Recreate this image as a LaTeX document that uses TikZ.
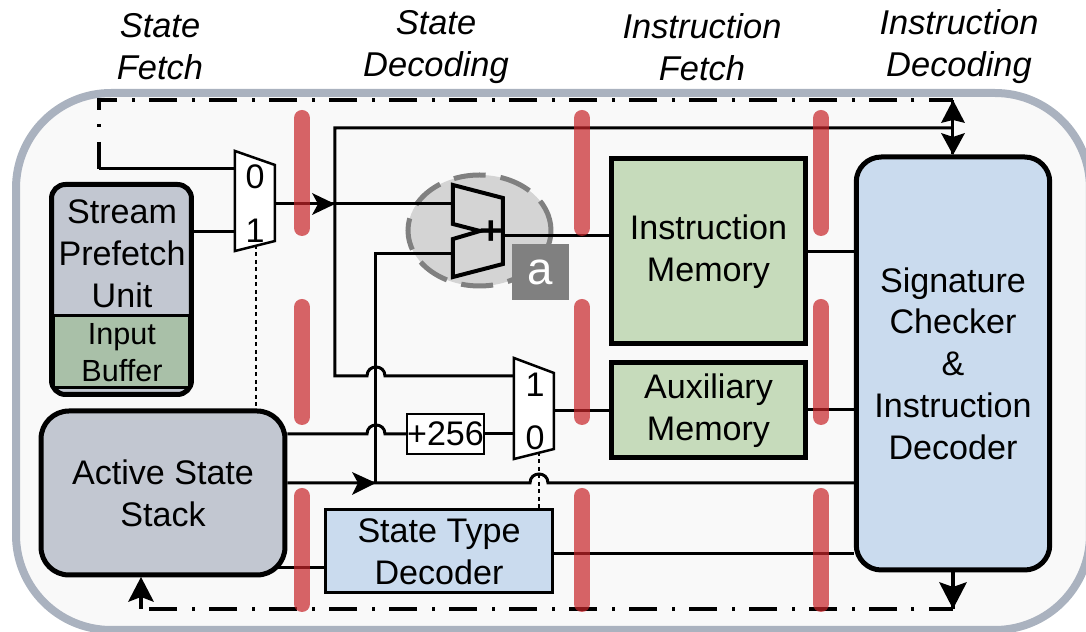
\documentclass[tikz,border=0pt]{standalone}
\usepackage{fontspec}
\setmainfont{Liberation Sans}
\usepackage{tikz}
\usetikzlibrary{shapes.geometric}
\definecolor{framegray}{HTML}{AAB2BF}
\definecolor{framefill}{HTML}{F9F9F9}
\definecolor{unitgray}{HTML}{C2C7D1}
\definecolor{bufgreen}{HTML}{A9C0A8}
\definecolor{memgreen}{HTML}{C6DBBB}
\definecolor{decblue}{HTML}{CADBEE}
\definecolor{pipered}{RGB}{200,36,41}
\begin{document}
\begin{tikzpicture}[x=0.1mm,y=-0.1mm]
            \tikzstyle{every node}=[inner sep=0pt,font=\fontsize{9.7}{11.9}\selectfont,align=center]
            \tikzstyle{wire}=[black,line width=0.3mm]
            \tikzstyle{dashdot}=[black,line width=0.4mm,dash pattern=on 2.8mm off 1.45mm on 0.3mm off 1.45mm,dash phase=0.4mm]
            \tikzstyle{dotline}=[black,line width=0.25mm,dash pattern=on 0.4mm off 0.35mm]
            \tikzstyle{pipebar}=[pipered,opacity=0.7,line width=1.6mm,line cap=round]
            \tikzstyle{bigbox}=[draw=black,line width=0.5mm,rounded corners=2.5mm]
            \tikzstyle{membox}=[draw=black,line width=0.5mm,fill=memgreen]
            \tikzstyle{muxbox}=[minimum width=4mm,minimum height=10mm]
            \tikzstyle{muxline}=[black,line width=0.25mm,fill=white]
            \tikzstyle{phase}=[font=\itshape\fontsize{9.8}{11.9}\selectfont]
            \useasboundingbox (0,0) rectangle (1086,632);
            \node [draw=framegray,line width=0.8mm,fill=framefill,rounded corners=9.5mm,minimum width=107.4mm,minimum height=53.7mm] (frame) at (553,361.5) {};

            \node [phase] (phasea) at (160,47) {State\\Fetch};
            \node [phase] (phaseb) at (436,47) {State\\Decoding};
            \node [phase] (phasec) at (702,47) {Instruction\\Fetch};
            \node [phase] (phased) at (959,47) {Instruction\\Decoding};

            \node [bigbox,rounded corners=1.4mm,fill=unitgray,minimum width=14mm,minimum height=21mm] (prefetch) at (121.5,289.5) {};
            \node [draw=black,line width=0.3mm,fill=bufgreen,minimum width=13.6mm,minimum height=7.2mm] (inbuf) at (121.5,352) {};
            \node (prefetchtxt) at (122,254) {Stream\\Prefetch\\Unit};
            \node [font=\fontsize{8.7}{10.5}\selectfont] (inbuftxt) at (122,353) {Input\\Buffer};
            \node [bigbox,fill=unitgray,rounded corners=2.8mm,minimum width=24.4mm,minimum height=16.4mm] (stack) at (163,493) {Active State\\Stack};
            \node [bigbox,fill=decblue,minimum width=19.35mm,minimum height=41.3mm] (checker) at (953,363.5) {Signature\\Checker\\\&\\Instruction\\Decoder};
            \node [membox,minimum width=19.5mm,minimum height=18.5mm] (instmem) at (708.5,251.5) {Instruction\\Memory};
            \node [membox,minimum width=19.5mm,minimum height=9.5mm] (auxmem) at (708.5,410.5) {Auxiliary\\Memory};
            \node [draw=black,line width=0.3mm,fill=decblue,minimum width=22.8mm,minimum height=8.3mm] (typedec) at (439,551.5) {State Type\\Decoder};
            \node [draw=black,line width=0.25mm,fill=white,minimum width=7.5mm,minimum height=4mm] (plus) at (445.5,434) {+256};

            \node [muxbox] (muxa) at (255,201) {};
            \draw [muxline] (235,151) -- (275,165) -- (275,241) -- (235,251) -- cycle;
            \node (muxazero) at (255,177) {0};
            \node (muxaone) at (255,231) {1};
            \node [muxbox] (muxb) at (534,409) {};
            \draw [muxline] (514,358) -- (554,373) -- (554,449) -- (514,459) -- cycle;
            \node (muxbone) at (535,385) {1};
            \node (muxbzero) at (535,438) {0};

            \node [draw=gray,dash pattern=on 3.2mm off 1.5mm,line width=0.5mm,fill=black!17,ellipse,minimum width=14.3mm,minimum height=11.1mm] (adderzone) at (479.5,230.5) {};
            \node [minimum width=5mm,minimum height=9.2mm] (adder) at (478,231) {};
            \draw [black,line width=0.4mm,line join=miter] (453,185) -- (503,198) -- (503,264) -- (453,277) -- (453,239) -- (480,231) -- (453,224) -- cycle;
            \node [fill=gray,minimum width=5.7mm,minimum height=5.6mm,text=white,font=\fontsize{13}{13}\selectfont] (tagbox) at (540.5,272) {a};

            \coordinate (topleft) at (99,100);
            \coordinate (topright) at (953,100);
            \coordinate (toptip) at (953,128);
            \coordinate (busleft) at (335,128);
            \coordinate (busjoin) at (335,204);
            \coordinate (busend) at (335,376);
            \coordinate (feedleft) at (99,169);
            \coordinate (prefetchout) at (192,232);
            \coordinate (muxaout) at (275,204);
            \coordinate (addertop) at (453,204);
            \coordinate (adderlow) at (453,254);
            \coordinate (adderout) at (503,236);
            \coordinate (rise) at (376,254);
            \coordinate (risefoot) at (376,483);
            \coordinate (stackout) at (278,568);
            \coordinate (botleft) at (141,609);
            \coordinate (botright) at (953,609);
            \coordinate (muxbout) at (554,411);

            \draw [dashdot] (topright) -- (topleft) -- (feedleft);
            \draw [wire] (feedleft) -- (muxa.west |- feedleft);
            \draw [wire] (prefetch.east |- prefetchout) -- (muxa.west |- prefetchout);
            \draw [wire] (muxaout) -- (busjoin) -- (addertop);
            \draw [wire] (checker.north) -- (topright);
            \draw [wire] (toptip) -- (busleft) -- (busend) -- (367,376) .. controls (367,364) and (385,364) .. (385,376) -- (muxb.west |- busend);
            \draw [wire] (adderlow) -- (rise) -- (risefoot);
            \draw [wire] (adderout) -- (instmem.west |- adderout);
            \draw [wire] (stack.east |- plus) -- (367,434) .. controls (367,422) and (385,422) .. (385,434) -- (plus.west);
            \draw [wire] (plus.east) -- (muxb.west |- plus);
            \draw [wire] (stack.east |- risefoot) -- (530,483) .. controls (530,471) and (548,471) .. (548,483) -- (checker.west |- risefoot);
            \draw [wire] (stackout) -- (typedec.west |- stackout);
            \draw [wire] (typedec.east |- 0,554) -- (checker.west |- 0,554);
            \draw [wire] (muxbout) -- (auxmem.west |- muxbout);
            \draw [wire] (instmem.east |- 0,252) -- (checker.west |- 0,252);
            \draw [wire] (auxmem.east |- 0,410) -- (checker.west |- 0,410);
            \draw [dotline] (256,245) -- (stack.north -| 256,0);
            \draw [dotline] (539,452) -- (typedec.north -| 539,0);
            \draw [wire,line width=0.4mm] (checker.south) -- (botright);
            \draw [dashdot] (botright) -- (botleft);
            \draw [wire,line width=0.4mm] (botleft) -- (141,590);

            \fill [black] (335,204) -- (312,193) -- (318,204) -- (312,215);
            \fill [black] (376,483) -- (352,472) -- (358,483) -- (352,495);
            \fill [black] (953,100) -- (941,123) -- (953,120) -- (965,123);
            \fill [black] (953,155) -- (941,133) -- (953,137) -- (965,133);
            \fill [black] (953,609) -- (939,582) -- (953,587) -- (967,582);
            \fill [black] (141,577) -- (128,602) -- (141,597) -- (154,602);
            \node [font=\bfseries\fontsize{11.5}{11.5}\selectfont] (addsign) at (491,233) {+};

            \foreach \xa in {302,582,821} {
                \draw [pipebar] (\xa,118) -- (\xa,228);
                \draw [pipebar] (\xa,307) -- (\xa,417);
                \draw [pipebar] (\xa,496) -- (\xa,604);
            }
        \end{tikzpicture}
\end{document}
